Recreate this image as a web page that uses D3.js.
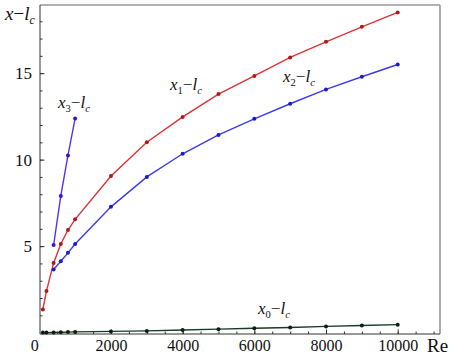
<!DOCTYPE html>
<html>
<head>
<meta charset="utf-8">
<script src="https://cdn.jsdelivr.net/npm/d3@7"></script>
<style>
  body { margin: 0; background: #fff; }
  svg { display: block; }
  .axis path, .axis line { stroke: #333; }
  .line { fill: none; stroke-width: 1.4; }
</style>
</head>
<body>
<script>
// data
var re_x0 = [100, 200, 400, 600, 800, 1000, 2000, 3000, 4000, 5000, 6000, 7000, 8000, 9000, 10000];
var val_x0 = [0.0, 0.0, 0.01, 0.02, 0.03, 0.04, 0.07, 0.1, 0.15, 0.2, 0.25, 0.3, 0.36, 0.41, 0.46];

var re_x1 = [100, 200, 400, 600, 800, 1000, 2000, 3000, 4000, 5000, 6000, 7000, 8000, 9000, 10000];
var val_x1 = [1.34, 2.4, 4.03, 5.12, 5.93, 6.55, 9.05, 11.01, 12.47, 13.79, 14.84, 15.91, 16.81, 17.68, 18.51];

var re_x2 = [400, 600, 800, 1000, 2000, 3000, 4000, 5000, 6000, 7000, 8000, 9000, 10000];
var val_x2 = [3.65, 4.13, 4.61, 5.12, 7.27, 9.0, 10.34, 11.43, 12.36, 13.23, 14.06, 14.79, 15.5];

var re_x3 = [400, 600, 800, 1000];
var val_x3 = [5.06, 7.9, 10.24, 12.38];

var xTicks = [0, 2000, 4000, 6000, 8000, 10000];
var yTicks = [5, 10, 15];

var FONT = "'Liberation Serif'";
var W = 449, H = 355;
var x = d3.scaleLinear().domain([20, 11180]).range([40, 440]);
var y = d3.scaleLinear().domain([-0.08, 18.94]).range([334, 5]);

var svg = d3.select("body").append("svg")
    .attr("width", W)
    .attr("height", H)
    .style("font-family", FONT);

// frame: top and right in gray
svg.append("line").attr("x1", 40).attr("x2", 440).attr("y1", 5).attr("y2", 5)
    .attr("stroke", "#999").attr("stroke-width", 1.6);
svg.append("line").attr("x1", 440).attr("x2", 440).attr("y1", 5).attr("y2", 334)
    .attr("stroke", "#999").attr("stroke-width", 1.6);

// minor ticks
svg.append("g")
    .attr("class", "axis")
    .attr("transform", "translate(0,334)")
    .call(d3.axisBottom(x).tickValues(d3.range(500, 11001, 500)).tickSize(-2.5).tickFormat(""))
    .select(".domain").remove();
svg.append("g")
    .attr("class", "axis")
    .attr("transform", "translate(40,0)")
    .call(d3.axisLeft(y).tickValues(d3.range(1, 19)).tickSize(-2.5).tickFormat(""))
    .select(".domain").remove();

// major x axis
var gx = svg.append("g")
    .attr("class", "axis")
    .attr("transform", "translate(0,334)")
    .call(d3.axisBottom(x).tickValues(xTicks).tickFormat(d3.format("d"))
        .tickSize(-4.5).tickSizeOuter(0).tickPadding(5));
gx.attr("font-family", null).attr("font-size", null);
gx.select(".domain").attr("d", "M40,0H440");
gx.selectAll("text")
    .style("font-family", FONT)
    .style("font-size", "16px")
    .attr("fill", "#111")
    .attr("dy", "0.72em");
gx.selectAll(".tick").filter(function(d) { return d === 0; }).select("line").remove();
gx.selectAll(".tick").filter(function(d) { return d === 0; }).select("text").attr("dx", -5);

// major y axis
var gy = svg.append("g")
    .attr("class", "axis")
    .attr("transform", "translate(40,0)")
    .call(d3.axisLeft(y).tickValues(yTicks).tickSize(-4.5).tickSizeOuter(0).tickPadding(8));
gy.attr("font-family", null).attr("font-size", null);
gy.select(".domain").attr("d", "M0,5V334");
gy.selectAll("text")
    .style("font-family", FONT)
    .style("font-size", "17px")
    .attr("fill", "#111");

// series
function drawSeries(re, vals, color, dotColor) {
    var pts = re.map(function(r, i) { return [r, vals[i]]; });
    var line = d3.line()
        .x(function(d) { return x(d[0]); })
        .y(function(d) { return y(d[1]); });
    svg.append("path")
        .attr("class", "line")
        .attr("stroke", color)
        .attr("d", line(pts));
    svg.selectAll(null)
        .data(pts)
        .enter().append("circle")
        .attr("cx", function(d) { return x(d[0]); })
        .attr("cy", function(d) { return y(d[1]); })
        .attr("r", 2)
        .attr("fill", dotColor);
}
drawSeries(re_x0, val_x0, "#1a3a26", "#0d1f12");
drawSeries(re_x1, val_x1, "#dd3333", "#b01818");
drawSeries(re_x2, val_x2, "#3b3bf0", "#1a1ad0");
drawSeries(re_x3, val_x3, "#5a30ee", "#3a10d8");

// labels like "x_n − l_c"
function label(px, py, sub, size) {
    var t = svg.append("text")
        .attr("x", px).attr("y", py)
        .attr("fill", "#111")
        .style("font-family", FONT)
        .style("font-size", size + "px")
        .style("font-style", "italic");
    t.append("tspan").text("x");
    if (sub !== null) {
        t.append("tspan").attr("dy", 4).style("font-size", (size * 0.62) + "px").style("font-style", "normal").text(sub);
        t.append("tspan").attr("dy", -4).style("font-style", "normal").text("\u2212");
    } else {
        t.append("tspan").style("font-style", "normal").text("\u2212");
    }
    t.append("tspan").text("l");
    t.append("tspan").attr("dy", 4).style("font-size", (size * 0.62) + "px").text("c");
}
label(5, 20, null, 19);
label(58, 108, "3", 17);
label(170, 90, "1", 17);
label(283, 82, "2", 17);
label(258, 314, "0", 17);

svg.append("text")
    .attr("x", 427).attr("y", 352)
    .attr("fill", "#111")
    .style("font-family", FONT)
    .style("font-size", "19px")
    .text("Re");
</script>
</body>
</html>
